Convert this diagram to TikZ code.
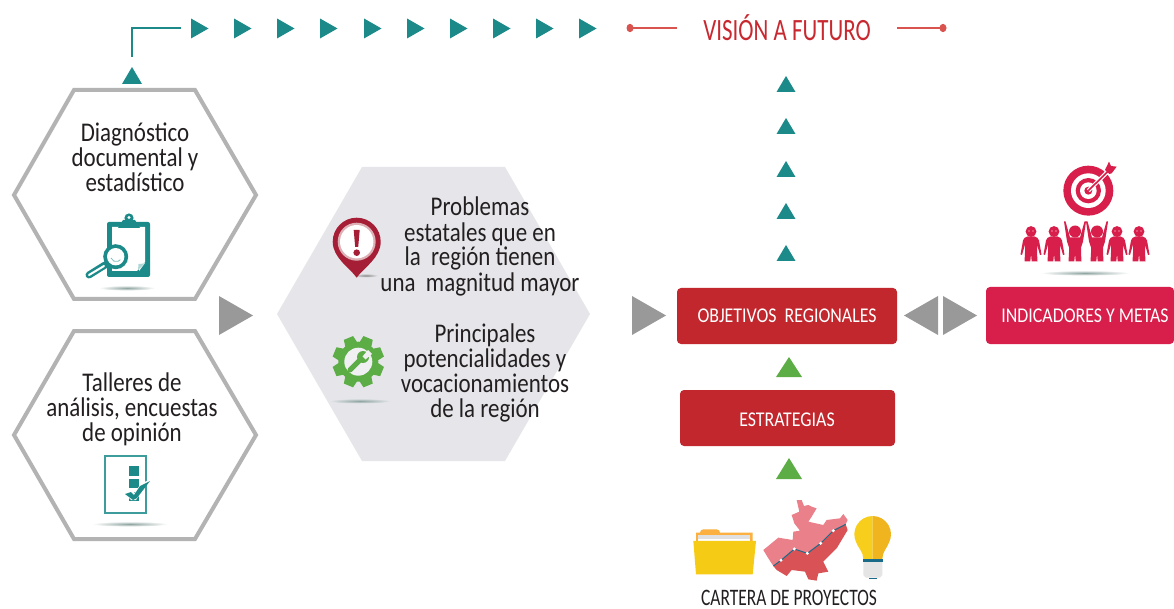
\documentclass[tikz,border=0pt]{standalone}
\usepackage{fontspec}
\setmainfont[FakeStretch=0.85]{Carlito}
\newfontfamily\visfont[FakeStretch=0.74]{Carlito}
\usetikzlibrary{calc}
\definecolor{teal1}{HTML}{1D8A8A}
\definecolor{hexgray}{HTML}{B3B3B3}
\definecolor{arrgray}{HTML}{999999}
\definecolor{midhex}{HTML}{E6E6EA}
\definecolor{boxred}{HTML}{C1272D}
\definecolor{crimson}{HTML}{D81E4A}
\definecolor{vred}{HTML}{D9534F}
\definecolor{vtext}{HTML}{C8282F}
\definecolor{green1}{HTML}{5CAD45}
\definecolor{txt}{HTML}{231F20}
\definecolor{pinred}{HTML}{A51E36}
\definecolor{pinring}{HTML}{DDB0B6}
\definecolor{shad}{HTML}{8FA5A1}
\definecolor{foldy}{HTML}{F6CB16}
\definecolor{foldo}{HTML}{FBB040}
\definecolor{mapl}{HTML}{E9808A}
\definecolor{mapd}{HTML}{D95356}
\definecolor{bulby}{HTML}{F7CE1B}
\definecolor{bulbo}{HTML}{F0B41F}
\definecolor{bulbb}{HTML}{1A6A8A}
\newcommand{\triRR}[5]{\fill[#5] (#1,#2-#4) -- (#1+#3,#2) -- (#1,#2+#4) -- cycle;}
\newcommand{\triU}[5]{\fill[#5] (#1-#3,#2) -- (#1+#3,#2) -- (#1,#2-#4) -- cycle;}
\newcommand{\shadowE}[4]{\shade[inner color=shad,outer color=#4] (#1,#2) ellipse[x radius=#3,y radius=2.6];}
\tikzset{
  x=1pt,y=-1pt,
  hexline/.style={draw=hexgray,line width=4pt,line join=miter,fill=white},
  body/.style={font=\fontsize{27}{25}\selectfont,text=txt,align=center,inner sep=0pt,anchor=base},
  redbox/.style={fill=boxred,rounded corners=4pt},
  boxlabel/.style={font=\fontsize{21}{21}\selectfont,text=white,inner sep=0pt},
  person/.pic={
    \fill (0,0) circle (5.4);
    \fill (-3.5,5) -- (3.5,5) .. controls (6,5.5) and (7.5,7) .. (8,9) -- (10.5,23) -- (9,23.5) -- (6,13) -- (6,21) -- (6.5,30) -- (0.7,30) -- (0,22) -- (-0.7,30) -- (-6.5,30) -- (-6,21) -- (-6,13) -- (-9,23.5) -- (-10.5,23) -- (-8,9) .. controls (-7.5,7) and (-6,5.5) .. (-3.5,5) -- cycle;
    \fill[white] (-2,-0.5) circle (0.6) (2,-0.5) circle (0.6);
  },
  cheer/.pic={
    \fill (0,0) circle (6);
    \fill (-5,6) -- (5,6) -- (9.5,-10) -- (11,-10) -- (8,10) -- (6,16) -- (6,21) -- (6.5,30) -- (0.7,30) -- (0,22) -- (-0.7,30) -- (-6.5,30) -- (-6,21) -- (-6,16) -- (-8,10) -- (-11,-10) -- (-9.5,-10) -- cycle;
  }
}
\begin{document}
\begin{tikzpicture}
\useasboundingbox (0,0) rectangle (1174,609);
\fill[white] (0,0) rectangle (1174,609);
% hexagons
\draw[hexline] (14,195) -- (74,90) -- (195,90) -- (256,195) -- (195,299) -- (74,299) -- cycle;
\draw[hexline] (14,435) -- (74,331) -- (195,331) -- (256,435) -- (195,539) -- (74,539) -- cycle;
\fill[midhex] (277,314) -- (362,167) -- (505,167) -- (590,314) -- (505,461) -- (362,461) -- cycle;
% hexagon texts
\node[body] (diag) at (135,191.5) {Diagnóstico\\documental y\\estadístico};
\node[body] (tall) at (132,441) {Talleres de\\análisis, encuestas\\de opinión};
\node[body] (prob) at (480,291) {Problemas\\estatales que en\\la\ \ región tienen\\una\ \ magnitud mayor};
\node[body] (prin) at (485,417.5) {Principales\\potencialidades y\\vocacionamientos\\de la región};
% top connector
\coordinate (upstart) at (132,57);
\coordinate (upend) at (181,28);
\draw[teal1,line width=1.5pt] (upstart) |- (upend);
\triU{132}{84}{10}{17}{teal1}
\foreach \xx in {191,234,277,320,364,407,450,493,536,579} {\triRR{\xx}{28.5}{17.5}{10}{teal1}}
\foreach \yy in {92,134,177,219,261} {\triU{786}{\yy}{9.5}{16}{teal1}}
% vision
\node[font=\visfont\fontsize{31}{31}\selectfont,text=vtext,inner sep=0pt] (vision) at (787,27.5) {VISIÓN A FUTURO};
\coordinate (vl) at (630,28); \coordinate (vle) at (677,28);
\coordinate (vr) at (943,28); \coordinate (vre) at (897,28);
\draw[vred,line width=1.4pt] (vl) -- (vle);
\draw[vred,line width=1.4pt] (vre) -- (vr);
\fill[vred] (vl) ellipse[x radius=3.5,y radius=4.2]; \fill[vred] (vr) ellipse[x radius=3.5,y radius=4.2];
% gray arrows
\triRR{219}{315.5}{34}{19.5}{arrgray}
\triRR{632}{315.5}{34}{19.5}{arrgray}
\triRR{938}{315.5}{-34}{19.5}{arrgray}
\triRR{943}{315.5}{34}{19.5}{arrgray}
% green arrows
\triU{789}{377}{13}{20}{green1}
\triU{789}{479}{13}{21}{green1}
% boxes
\fill[redbox] (677,288) rectangle (897,344);
\node[boxlabel] (obj) at (787,315.8) {OBJETIVOS\ \ REGIONALES};
\fill[redbox] (680,390) rectangle (895,446);
\node[boxlabel] (est) at (787,420) {ESTRATEGIAS};
\fill[crimson,rounded corners=4pt] (986,287) rectangle (1174,344);
\node[boxlabel] (ind) at (1085,315.8) {INDICADORES Y METAS};
\node[font=\visfont\fontsize{23.6}{23.6}\selectfont,text=txt,inner sep=0pt] (cart) at (789,597.5) {CARTERA DE PROYECTOS};
% clipboard icon
\fill[teal1,rounded corners=2pt] (107,222) rectangle (150,277);
\fill[white] (112,227) -- (145,227) -- (145,262) -- (137,271) -- (112,271) -- cycle;
\fill[white] (139,265) -- (145,263) -- (139,271) -- cycle;
\fill[teal1!35] (138,270) -- (138.5,264) -- (144.5,263.5) -- cycle;
\fill[teal1] (118,228) -- (123,220) -- (135,220) -- (140,228) -- cycle;
\fill[teal1] (129,218) circle (4.6);
\fill[white] (129,217.5) circle (1.7);
\draw[teal1,line width=7pt,line cap=round] (105,265) -- (89,275);
\draw[white,line width=2pt,line cap=round] (104,266) -- (89,275);
\fill[teal1] (115.7,256.7) circle (12.5);
\fill[white] (115.7,256.7) circle (8.7);
\draw[teal1!55,line width=.8pt] (111,258) arc[start angle=160,end angle=40,radius=5.5] ;
\shadowE{127}{288}{28}{white}
% checklist icon
\draw[teal1!85,line width=1.4pt,fill=white] (105,456) rectangle (146,513);
\fill[teal1] (129,466) rectangle (139,476);
\fill[teal1] (129,479) rectangle (139,488);
\fill[teal1] (129,492) rectangle (139,501);
\fill[white] (124,492) -- (131,490) -- (135,493) -- (141,483) -- (150,480) -- (136,500) -- (131,500) -- cycle;
\fill[teal1] (125,494) -- (131,492) -- (134,495) -- (140,486) -- (150,481) -- (137,498) -- (133,500) -- cycle;
\shadowE{130}{524}{38}{white}
% pin icon
\shade[inner color=black!45,outer color=midhex] (366,275.5) ellipse[x radius=12,y radius=2];
\fill[pinred] (356.7,277.7) .. controls (350,268) and (332.7,258) .. (332.7,241.7) arc[start angle=180,end angle=360,radius=24] .. controls (380.7,258) and (363.4,268) .. (356.7,277.7) -- cycle;
\fill[pinring] (356.7,241.7) circle (19);
\fill[white] (356.7,241.7) circle (16.7);
\fill[pinred] (353.7,230) -- (359.7,230) -- (358.2,247) -- (355.2,247) -- cycle;
\fill[pinred] (356.7,252.7) circle (3.3);
% gear icon
\foreach \a in {0,45,...,315}{
  \fill[green1,rotate around={\a+22.5:(358.3,361.7)}] (353.3,336) -- (363.3,336) -- (365,345) -- (351.6,345) -- cycle;
}
\fill[green1] (358.3,361.7) circle (20);
\fill[midhex!60!white] (358.3,361.7) circle (14);
\draw[green1,line width=5pt,line cap=round] (350,370) -- (362,358);
\fill[green1] (363,357) circle (6);
\fill[midhex!60!white] (362.5,356.5) -- (368,350) -- (372,354) -- (365.5,359.5) -- cycle;
\shade[inner color=shad,outer color=midhex] (360,401) ellipse[x radius=31,y radius=2.5];
% projects icons
\begin{scope}[shift={(680,490)},x=0.3333pt,y=-0.3333pt]
  % folder
  \fill[foldo] (48,128) -- (60,128) arc[start angle=180,end angle=270,radius=10] -- (110,118) arc[start angle=270,end angle=360,radius=10] -- (218,128) -- (218,160) -- (48,160) -- cycle;
  \fill[black!12] (55,135) rectangle (210,160);
  \fill[white] (55,146) rectangle (210,160);
  \fill[foldy] (40,153) -- (228,153) -- (218,253) -- (48,253) -- cycle;
  % map
  \fill[mapl] (250,180) -- (295,143) -- (338,150) -- (340,125) -- (360,122) -- (343,100) -- (335,75) -- (358,65) -- (350,30) -- (365,30) -- (372,48) -- (385,45) -- (395,50) -- (410,55) -- (395,80) -- (385,95) -- (430,105) -- (440,90) -- (480,85) -- (490,72) -- (503,90) -- (497,103) -- (460,122) -- (422,160) -- (382,190) -- (343,177) -- (303,211) -- (280,228) -- (265,205) -- cycle;
  \fill[mapd] (280,228) -- (303,211) -- (343,177) -- (382,190) -- (422,160) -- (460,122) -- (497,103) -- (503,120) -- (470,175) -- (430,215) -- (445,245) -- (415,250) -- (410,272) -- (385,268) -- (375,245) -- (335,240) -- (320,258) -- (290,240) -- cycle;
  \draw[bulbb,line width=1pt] (280,228) -- (303,211) -- (343,177) -- (382,190) -- (422,160) -- (460,122) -- (497,103);
  \foreach \p in {(303,211),(343,177),(382,190),(422,160),(460,122)} \fill[white] \p circle (5);
  % bulb
  \fill[bulby] (578,78) arc[start angle=270,end angle=155,radius=55] .. controls (535,175) and (550,185) .. (550,207) -- (578,207) -- cycle;
  \fill[bulbo] (578,78) arc[start angle=270,end angle=385,radius=55] .. controls (621,175) and (607,185) .. (607,207) -- (578,207) -- cycle;
  \fill[black!10] (550,215) -- (607,215) -- (607,255) -- (600,263) -- (557,263) -- (550,255) -- cycle;
  \fill[bulbb] (549,207) rectangle (608,216);
  \fill[bulbb] (567,263) rectangle (590,267);
\end{scope}
% target and people
\begin{scope}[shift={(1000,150)},x=0.3333pt,y=-0.3333pt]
  \fill[crimson] (265,122) circle (75);
  \fill[white] (265,122) circle (52);
  \fill[crimson] (265,122) circle (38);
  \fill[white] (265,122) circle (25);
  \fill[crimson] (265,122) circle (12);
  \draw[white,line width=4pt] (265,122) -- (322,66);
  \draw[crimson,line width=1.6pt] (265,122) -- (325,63);
  \fill[crimson] (315,60) -- (327,35) -- (333,48) -- (350,50) -- (335,70) -- (328,72) -- cycle;
\end{scope}
\begin{scope}[crimson]
  \pic at (1031,231.5) {person};
  \pic at (1054,231.5) {person};
  \pic at (1075,231.5) {cheer};
  \pic at (1097,231.5) {cheer};
  \pic at (1117,231.5) {person};
  \pic at (1139,231.5) {person};
\end{scope}
\shadowE{1085}{273}{45}{white}
\end{tikzpicture}
\end{document}
